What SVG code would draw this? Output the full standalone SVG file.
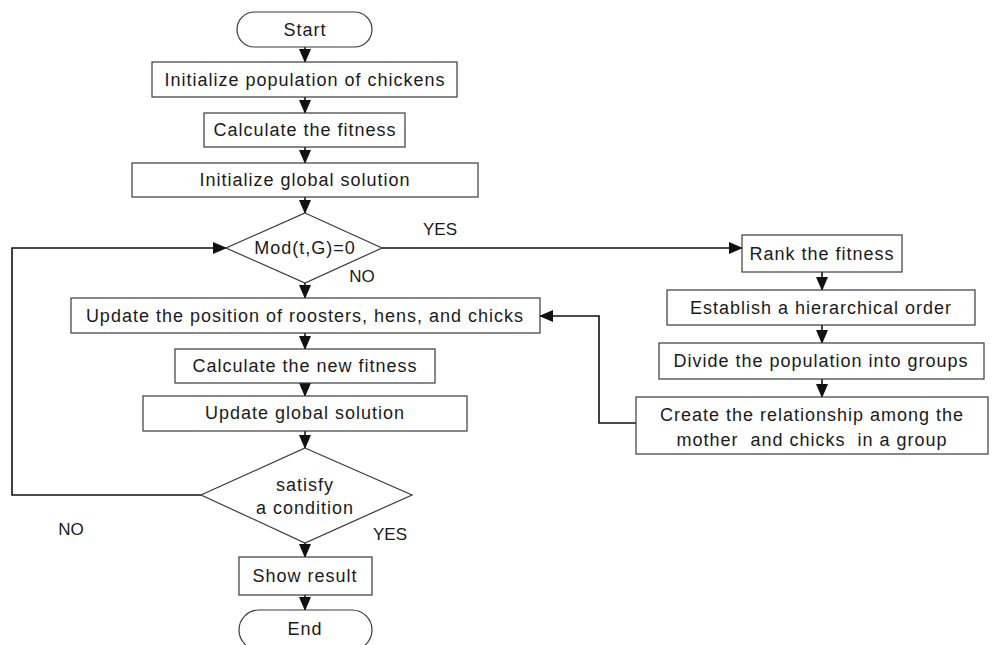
<svg xmlns="http://www.w3.org/2000/svg" width="992" height="645" viewBox="0 0 992 645">
<style>
.box{fill:#fff;stroke:#3a3a3a;stroke-width:1.2}
.t{font-family:"Liberation Sans",Arial,sans-serif;font-size:18px;fill:#1a1a1a;text-anchor:middle;letter-spacing:1px}
.lbl{font-family:"Liberation Sans",Arial,sans-serif;font-size:17px;fill:#1a1a1a;text-anchor:middle}
.c{fill:none;stroke:#111;stroke-width:1.6}
</style>
<defs>
<marker id="ah" markerUnits="userSpaceOnUse" markerWidth="14" markerHeight="12" refX="13" refY="6" orient="auto">
<path d="M0,0 L14,6 L0,12 Z" fill="#111"/>
</marker>
</defs>
<rect width="992" height="645" fill="#fff"/>
<g id="connectors">
<line class="c" x1="305" y1="47" x2="305" y2="62" marker-end="url(#ah)"/>
<line class="c" x1="305" y1="97" x2="305" y2="113" marker-end="url(#ah)"/>
<line class="c" x1="305" y1="147" x2="305" y2="163" marker-end="url(#ah)"/>
<line class="c" x1="305" y1="197" x2="305" y2="213" marker-end="url(#ah)"/>
<line class="c" x1="305" y1="283" x2="305" y2="298" marker-end="url(#ah)"/>
<line class="c" x1="305" y1="333" x2="305" y2="349" marker-end="url(#ah)"/>
<line class="c" x1="305" y1="383" x2="305" y2="396" marker-end="url(#ah)"/>
<line class="c" x1="305" y1="431" x2="305" y2="448" marker-end="url(#ah)"/>
<line class="c" x1="305" y1="543" x2="305" y2="557" marker-end="url(#ah)"/>
<line class="c" x1="305" y1="595" x2="305" y2="610" marker-end="url(#ah)"/>
<polyline class="c" points="201,495 12,495 12,248 226,248" marker-end="url(#ah)"/>
<line class="c" x1="382" y1="248" x2="742" y2="248" marker-end="url(#ah)"/>
<line class="c" x1="822" y1="272" x2="822" y2="290" marker-end="url(#ah)"/>
<line class="c" x1="822" y1="325" x2="822" y2="343" marker-end="url(#ah)"/>
<line class="c" x1="822" y1="379" x2="822" y2="397" marker-end="url(#ah)"/>
<polyline class="c" points="636,423 599,423 599,316 540,316" marker-end="url(#ah)"/>
</g>
<g id="start">
<rect class="box" x="237" y="12" width="135" height="35" rx="17.5"/>
<text class="t" x="305" y="36">Start</text>
</g>
<g id="init-pop">
<rect class="box" x="152" y="62" width="305" height="35"/>
<text class="t" x="305" y="86">Initialize population of chickens</text>
</g>
<g id="calc-fit">
<rect class="box" x="204" y="113" width="201" height="34"/>
<text class="t" x="305" y="136">Calculate the fitness</text>
</g>
<g id="init-global">
<rect class="box" x="132" y="163" width="346" height="34"/>
<text class="t" x="305" y="186">Initialize global solution</text>
</g>
<g id="mod">
<polygon class="box" points="305,213 382,248 305,283 226,248"/>
<text class="t" x="305" y="254">Mod(t,G)=0</text>
<text class="lbl" x="440" y="235">YES</text>
<text class="lbl" x="362" y="282">NO</text>
</g>
<g id="update-pos">
<rect class="box" x="71" y="298" width="469" height="35"/>
<text class="t" x="305" y="322">Update the position of roosters, hens, and chicks</text>
</g>
<g id="calc-new">
<rect class="box" x="175" y="349" width="260" height="34"/>
<text class="t" x="305" y="372">Calculate the new fitness</text>
</g>
<g id="update-global">
<rect class="box" x="143" y="396" width="324" height="35"/>
<text class="t" x="305" y="419">Update global solution</text>
</g>
<g id="satisfy">
<polygon class="box" points="305,448 412,495 305,543 201,495"/>
<text class="t" x="305" y="491">satisfy</text>
<text class="t" x="305" y="514">a condition</text>
<text class="lbl" x="390" y="540">YES</text>
<text class="lbl" x="71" y="535">NO</text>
</g>
<g id="show">
<rect class="box" x="239" y="557" width="133" height="38"/>
<text class="t" x="305" y="582">Show result</text>
</g>
<g id="end">
<rect class="box" x="239" y="610" width="133" height="40" rx="20"/>
<text class="t" x="305" y="635">End</text>
</g>
<g id="rank">
<rect class="box" x="742" y="235" width="160" height="37"/>
<text class="t" x="822" y="260">Rank the fitness</text>
</g>
<g id="establish">
<rect class="box" x="667" y="290" width="308" height="35"/>
<text class="t" x="821" y="314">Establish a hierarchical order</text>
</g>
<g id="divide">
<rect class="box" x="659" y="343" width="325" height="36"/>
<text class="t" x="821" y="367">Divide the population into groups</text>
</g>
<g id="create">
<rect class="box" x="636" y="397" width="352" height="57"/>
<text class="t" x="812" y="421">Create the relationship among the</text>
<text class="t" x="812" y="446" xml:space="preserve">mother  and chicks  in a group</text>
</g>
</svg>
